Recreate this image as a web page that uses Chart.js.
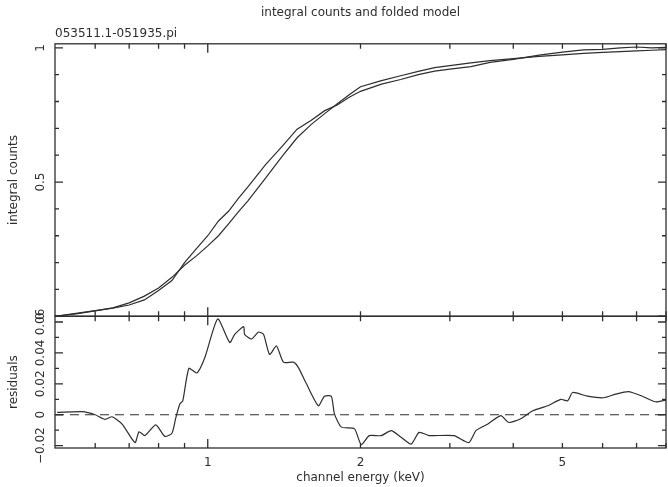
<!DOCTYPE html>
<html>
<head>
<meta charset="utf-8">
<script src="https://cdn.jsdelivr.net/npm/chart.js@4.4.1/dist/chart.umd.min.js"></script>
<style>
  html, body { margin: 0; padding: 0; background: #fff; }
  #wrap { width: 668px; height: 487px; }
</style>
</head>
<body>
<div id="wrap"><canvas id="plot" width="668" height="487"></canvas></div>
<script>
// ── DATA ─────────────────────────────────────────
const topEnergy = [0.5, 0.55, 0.6, 0.65, 0.7, 0.75, 0.8, 0.85, 0.9, 0.95, 1.0, 1.05, 1.1, 1.15, 1.2,
  1.3, 1.4, 1.5, 1.6, 1.7, 1.8, 1.9, 2.0, 2.2, 2.4, 2.6, 2.8, 3.0, 3.3, 3.6, 4.0, 4.5, 5.0, 5.5,
  6.0, 6.5, 7.0, 7.5, 8.0];
const countsData = [0.000, 0.011, 0.021, 0.030, 0.042, 0.061, 0.096, 0.133, 0.200, 0.252, 0.300,
  0.355, 0.392, 0.440, 0.482, 0.565, 0.632, 0.697, 0.730, 0.766, 0.787, 0.816, 0.838, 0.865, 0.882,
  0.900, 0.913, 0.921, 0.930, 0.946, 0.957, 0.973, 0.984, 0.992, 0.994, 1.000, 1.003, 1.000, 1.002];
const countsModel = [0.000, 0.009, 0.020, 0.031, 0.050, 0.075, 0.105, 0.145, 0.190, 0.225, 0.262,
  0.300, 0.345, 0.390, 0.430, 0.515, 0.595, 0.665, 0.715, 0.755, 0.792, 0.825, 0.855, 0.878, 0.896,
  0.912, 0.926, 0.934, 0.944, 0.952, 0.960, 0.968, 0.974, 0.979, 0.983, 0.986, 0.989, 0.991, 0.993];

const resEnergy = [0.505, 0.566, 0.600, 0.628, 0.648, 0.678, 0.719, 0.732, 0.752, 0.790, 0.823,
  0.850, 0.865, 0.881, 0.893, 0.918, 0.952, 0.987, 1.046, 1.105, 1.130, 1.177, 1.182, 1.220, 1.259,
  1.288, 1.324, 1.366, 1.410, 1.476, 1.509, 1.565, 1.652, 1.698, 1.752, 1.777, 1.834, 1.945, 2.007,
  2.081, 2.197, 2.299, 2.405, 2.517, 2.609, 2.730, 2.792, 3.057, 3.271, 3.377, 3.565, 3.780, 3.919,
  4.139, 4.371, 4.677, 4.961, 5.120, 5.238, 5.604, 6.026, 6.360, 6.745, 7.189, 7.623, 8.0];
const residuals = [0.0015, 0.002, 0.0, -0.003, -0.0013, -0.006, -0.018, -0.011, -0.0135, -0.0065,
  -0.014, -0.012, -0.002, 0.007, 0.009, 0.030, 0.027, 0.037, 0.062, 0.0467, 0.052, 0.057, 0.052,
  0.049, 0.0535, 0.052, 0.039, 0.0445, 0.034, 0.034, 0.0305, 0.020, 0.0058, 0.012, 0.012, 0.0006,
  -0.008, -0.009, -0.0194, -0.0135, -0.0135, -0.0103, -0.0146, -0.019, -0.0114, -0.0135, -0.0135,
  -0.0135, -0.018, -0.0103, -0.006, -0.0006, -0.005, -0.0026, 0.0026, 0.0058, 0.010, 0.009, 0.0144,
  0.012, 0.011, 0.0133, 0.015, 0.012, 0.0084, 0.0095];

const xTicks       = [0.6, 0.7, 0.8, 0.9, 1, 2, 3, 4, 5, 6, 7, 8];
const xMajor       = [1];
const xLabels      = [1, 2, 5];
const topTicks     = [0, 0.1, 0.2, 0.3, 0.4, 0.5, 0.6, 0.7, 0.8, 0.9, 1.0];
const topMajor     = [0, 0.5, 1];
const topLabels    = ['0', '0.5', '1'];
const resTicks     = [-0.02, -0.01, 0, 0.01, 0.02, 0.03, 0.04, 0.05, 0.06];
const resMajor     = [-0.02, 0, 0.02, 0.04, 0.06];
const resLabels    = ['\u22120.02', '0', '0.02', '0.04', '0.06'];

// ── STYLE ────────────────────────────────────────
const INK  = '#2e2e2e';
const FONT = 'DejaVu Sans';

const pts = (xs, ys) => xs.map((x, i) => ({ x, y: ys[i] }));

// frames, inward ticks and rotated y labels, PGPLOT style
const frameTicks = {
  id: 'frameTicks',
  afterDraw(chart) {
    const ctx = chart.ctx;
    const xs  = chart.scales.x;
    const L = chart.chartArea.left, R = chart.chartArea.right;
    ctx.save();
    ctx.strokeStyle = INK;
    ctx.fillStyle = INK;
    ctx.lineWidth = 1.3;
    const panels = [
      [chart.scales.y,  topTicks, topMajor, topLabels],
      [chart.scales.y2, resTicks, resMajor, resLabels],
    ];
    panels.forEach(([ys, ticks, major, labels]) => {
      const T = ys.top, B = ys.bottom;
      ctx.strokeRect(L, T, R - L, B - T);
      ctx.beginPath();
      xTicks.forEach(v => {
        const px = xs.getPixelForValue(v);
        const len = xMajor.includes(v) ? 9 : 5;
        ctx.moveTo(px, T); ctx.lineTo(px, T + len);
        ctx.moveTo(px, B); ctx.lineTo(px, B - len);
      });
      ticks.forEach(v => {
        const py = ys.getPixelForValue(v);
        const len = major.some(m => Math.abs(m - v) < 1e-9) ? 8 : 4;
        ctx.moveTo(L, py); ctx.lineTo(L + len, py);
        ctx.moveTo(R, py); ctx.lineTo(R - len, py);
      });
      ctx.stroke();
      ctx.font = '12px "' + FONT + '"';
      ctx.textAlign = 'center';
      ctx.textBaseline = 'middle';
      major.forEach((v, i) => {
        ctx.save();
        ctx.translate(41, ys.getPixelForValue(v));
        ctx.rotate(-Math.PI / 2);
        ctx.fillText(labels[i], 0, 0);
        ctx.restore();
      });
    });
    ctx.restore();
  },
};

const lineStyle = {
  borderColor: INK,
  borderWidth: 1.2,
  pointRadius: 0,
  fill: false,
};

new Chart(document.getElementById('plot'), {
  type: 'line',
  data: {
    datasets: [
      { ...lineStyle, data: pts(topEnergy, countsData),  yAxisID: 'y', tension: 0 },
      { ...lineStyle, data: pts(topEnergy, countsModel), yAxisID: 'y', tension: 0 },
      { ...lineStyle, data: pts(resEnergy, residuals),   yAxisID: 'y2', tension: 0.2 },
      { ...lineStyle, data: pts([0.5, 8], [0, 0]),       yAxisID: 'y2', borderDash: [9, 6] },
    ],
  },
  options: {
    responsive: false,
    animation: false,
    devicePixelRatio: 1,
    layout: { padding: { left: 0, right: 2, top: 0, bottom: 0 } },
    plugins: {
      legend: { display: false },
      tooltip: { enabled: false },
      title: {
        display: true,
        text: 'integral counts and folded model',
        fullSize: false,
        color: INK,
        font: { family: FONT, size: 12, weight: 'normal' },
        padding: { top: 6, bottom: 6 },
      },
      subtitle: {
        display: true,
        text: '053511.1-051935.pi',
        fullSize: false,
        align: 'start',
        color: INK,
        font: { family: FONT, size: 12, weight: 'normal' },
        padding: { top: 0, bottom: 3 },
      },
    },
    scales: {
      x: {
        type: 'logarithmic',
        min: 0.5,
        max: 8,
        grid: { display: false, drawTicks: false },
        border: { display: false },
        afterBuildTicks: s => { s.ticks = xLabels.map(v => ({ value: v })); },
        ticks: {
          color: INK,
          padding: 8,
          font: { family: FONT, size: 12 },
          callback: v => String(v),
        },
        title: {
          display: true,
          text: 'channel energy (keV)',
          color: INK,
          font: { family: FONT, size: 12 },
          padding: { top: 0, bottom: 2 },
        },
        afterFit: s => { s.height = 39; },
      },
      // residual panel listed first: the stack is laid out bottom-up
      y2: {
        stack: 'panels',
        stackWeight: 132,
        min: -0.0215,
        max: 0.0637,
        grid: { display: false },
        border: { display: false },
        ticks: { display: false },
        title: {
          display: true,
          text: 'residuals',
          color: INK,
          font: { family: FONT, size: 12 },
          padding: { top: 7, bottom: 0 },
        },
        afterFit: s => { s.width = 55; },
      },
      y: {
        stack: 'panels',
        stackWeight: 273,
        min: 0,
        max: 1.015,
        grid: { display: false },
        border: { display: false },
        ticks: { display: false },
        title: {
          display: true,
          text: 'integral counts',
          color: INK,
          font: { family: FONT, size: 12 },
          padding: { top: 7, bottom: 0 },
        },
        afterFit: s => { s.width = 55; },
      },
    },
  },
  plugins: [frameTicks],
});
</script>
</body>
</html>
